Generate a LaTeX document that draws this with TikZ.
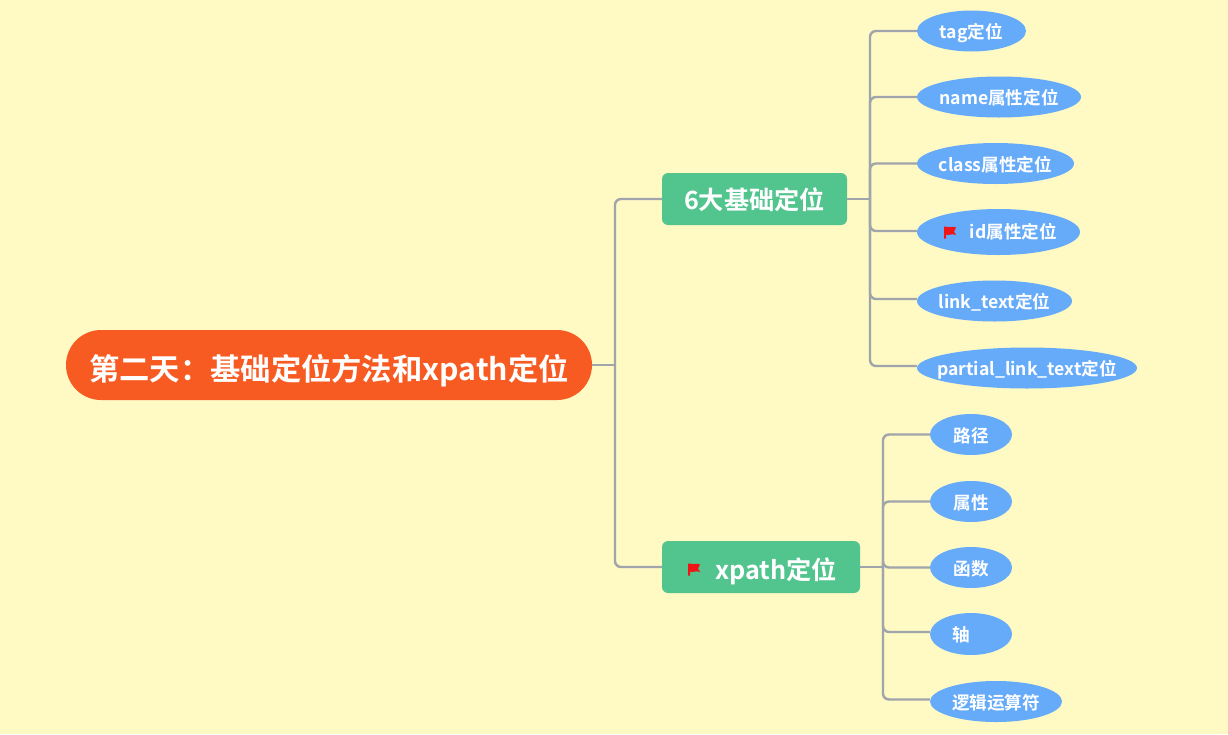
\documentclass[tikz,border=0pt]{standalone}
\usepackage{fontspec}
\setmainfont{Noto Sans CJK SC}[BoldFont={Noto Sans CJK SC Bold}]
\usetikzlibrary{shapes.geometric}
\definecolor{bgc}{HTML}{FFF9C4}
\definecolor{rootc}{HTML}{F75B22}
\definecolor{branchc}{HTML}{52C48E}
\definecolor{leafc}{HTML}{66ABF9}
\definecolor{linec}{HTML}{A0A4AB}
\definecolor{flagc}{HTML}{F01414}
\newcommand{\lbl}[2]{\makebox[0pt]{\raisebox{-#1pt}[0pt][0pt]{#2}}}
\tikzset{
  x=1pt,y=-1pt,
  rootbox/.style={draw=none,fill=rootc,rounded corners=35pt,text=white,font=\bfseries\fontsize{30.3}{30}\selectfont,inner sep=0pt,minimum height=70pt,minimum width=526pt},
  branchbox/.style={draw=none,fill=branchc,rounded corners=6pt,text=white,font=\bfseries\fontsize{25.2}{25}\selectfont,inner sep=0pt,minimum height=52pt},
  leafbox/.style={draw=none,fill=leafc,ellipse,text=white,font=\bfseries\fontsize{17.6}{17.6}\selectfont,inner sep=0pt,minimum height=41pt},
  conn/.style={draw=linec,line width=2.4pt,rounded corners=6pt},
  flagmark/.style={fill=flagc,draw=none},
}
\begin{document}
\begin{tikzpicture}
\useasboundingbox[fill=bgc] (0,0) rectangle (1228,734);
\coordinate (t0) at (615,365);
\coordinate (t1) at (870,198);
\coordinate (t2) at (883,566);
\node[rootbox] (root) at (329,365) {\lbl{15}{第二天：基础定位方法和xpath定位}};
\node[branchbox,minimum width=185pt] (b1) at (754.5,199) {\lbl{10.5}{6大基础定位}};
\node[branchbox,minimum width=198pt] (b2) at (761,567) {\lbl{12}{\makebox[152pt][r]{xpath定位}}};
\node[leafbox,minimum width=109pt] (l1) at (971.5,31) {\lbl{7.5}{tag定位}};
\node[leafbox,minimum width=164pt] (l2) at (999,97) {\lbl{7.5}{name属性定位}};
\node[leafbox,minimum width=157pt] (l3) at (995.5,163.5) {\lbl{7.5}{class属性定位}};
\node[leafbox,minimum width=163pt,minimum height=46pt] (l4) at (998.5,232) {\lbl{6.5}{\makebox[117pt][r]{id属性定位}}};
\node[leafbox,minimum width=155pt] (l5) at (994.5,301) {\lbl{7.5}{link\_text定位}};
\node[leafbox,minimum width=220pt] (l6) at (1027,368) {\lbl{7.5}{partial\_link\_text定位}};
\node[leafbox,minimum width=82pt] (m1) at (971,434.5) {\lbl{7.5}{路径}};
\node[leafbox,minimum width=82pt] (m2) at (971,501.5) {\lbl{7.5}{属性}};
\node[leafbox,minimum width=82pt] (m3) at (971,567.5) {\lbl{7.5}{函数}};
\node[leafbox,minimum width=82pt,minimum height=42pt] (m4) at (971,634) {\lbl{7.5}{\makebox[38pt][l]{轴}}};
\node[leafbox,minimum width=132pt] (m5) at (996,701.5) {\lbl{7.5}{逻辑运算符}};
\draw[conn] (root.east) -- (t0);
\draw[conn] (t0) |- (b1.west);
\draw[conn] (t0) |- (b2.west);
\draw[conn] (b1.east) -- (b1.east -| t1);
\draw[conn] (b2.east) -- (b2.east -| t2);
\foreach \n/\d in {l1/0,l2/0,l3/0,l4/-1,l5/-2,l6/-2} \draw[conn] (t1) |- ([yshift=-\d pt]\n.west);
\foreach \n/\d in {m1/0,m2/0,m3/0,m4/-2,m5/-2} \draw[conn] (t2) |- ([yshift=-\d pt]\n.west);
\path[flagmark] (944,226.5) -- (946,226.5) .. controls (949,228.5) and (952,225.5) .. (956,227.5) -- (954,231.5) -- (956,235) .. controls (952,233) and (949,236) .. (946,234.5) -- (946,238.5) -- (944,238.5) -- cycle;
\path[flagmark] (688,563.5) -- (690,563.5) .. controls (693,565.5) and (696,562.5) .. (700,564.5) -- (698,568.5) -- (700,572) .. controls (696,570) and (693,573) .. (690,571.5) -- (690,575.5) -- (688,575.5) -- cycle;
\end{tikzpicture}
\end{document}
